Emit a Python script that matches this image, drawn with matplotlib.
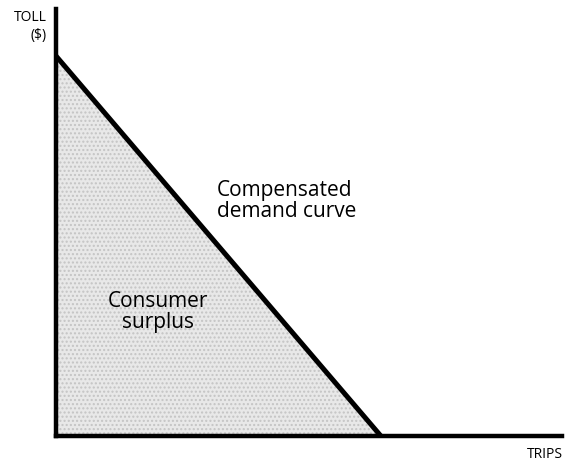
import matplotlib
matplotlib.use("Agg")
import matplotlib.pyplot as plt

# Data (axis units: 0..100 on both axes)
toll_intercept = 89.0   # toll at zero trips
trips_intercept = 64.2  # trips at zero toll
demand_trips = [0.0, trips_intercept]
demand_toll = [toll_intercept, 0.0]
x_label = "TRIPS"
y_label = "TOLL\n($)"
curve_label = "Compensated\ndemand curve"
area_label = "Consumer\nsurplus"

plt.rcParams['font.family'] = ['Open Sans', 'DejaVu Sans']

fig = plt.figure(figsize=(5.68, 4.64), dpi=100)
ax = fig.add_axes([56/568, (464-437)/464, 506/568, 427/464])
ax.set_xlim(0, 100)
ax.set_ylim(0, 100)

# Shaded consumer-surplus triangle
ax.fill_between(demand_trips, demand_toll, 0, color='#e8e8e8', linewidth=0, zorder=1)
ax.fill_between(demand_trips, demand_toll, 0, facecolor='none', edgecolor='#c4c4c4',
                hatch='....', linewidth=0, zorder=1)

# Demand curve
ax.plot(demand_trips, demand_toll, color='black', linewidth=3.6, solid_capstyle='butt', zorder=3)

# Axes styling
for s in ['top', 'right']:
    ax.spines[s].set_visible(False)
for s in ['left', 'bottom']:
    ax.spines[s].set_linewidth(3.2)
    ax.spines[s].set_color('black')
ax.set_xticks([])
ax.set_yticks([])
ax.set_facecolor('none')

# Labels
fig.text(47/568, 1 - 10/464, y_label, ha='right', va='top', fontsize=10, linespacing=1.25)
fig.text(563/568, 1 - 447/464, x_label, ha='right', va='top', fontsize=10)
fig.text(217/568, 1 - 180/464, curve_label, ha='left', va='top', fontsize=15, linespacing=1.02)
fig.text(158/568, 1 - 291/464, area_label, ha='center', va='top', fontsize=15, linespacing=0.98)

fig.savefig('out.png', dpi=100)
